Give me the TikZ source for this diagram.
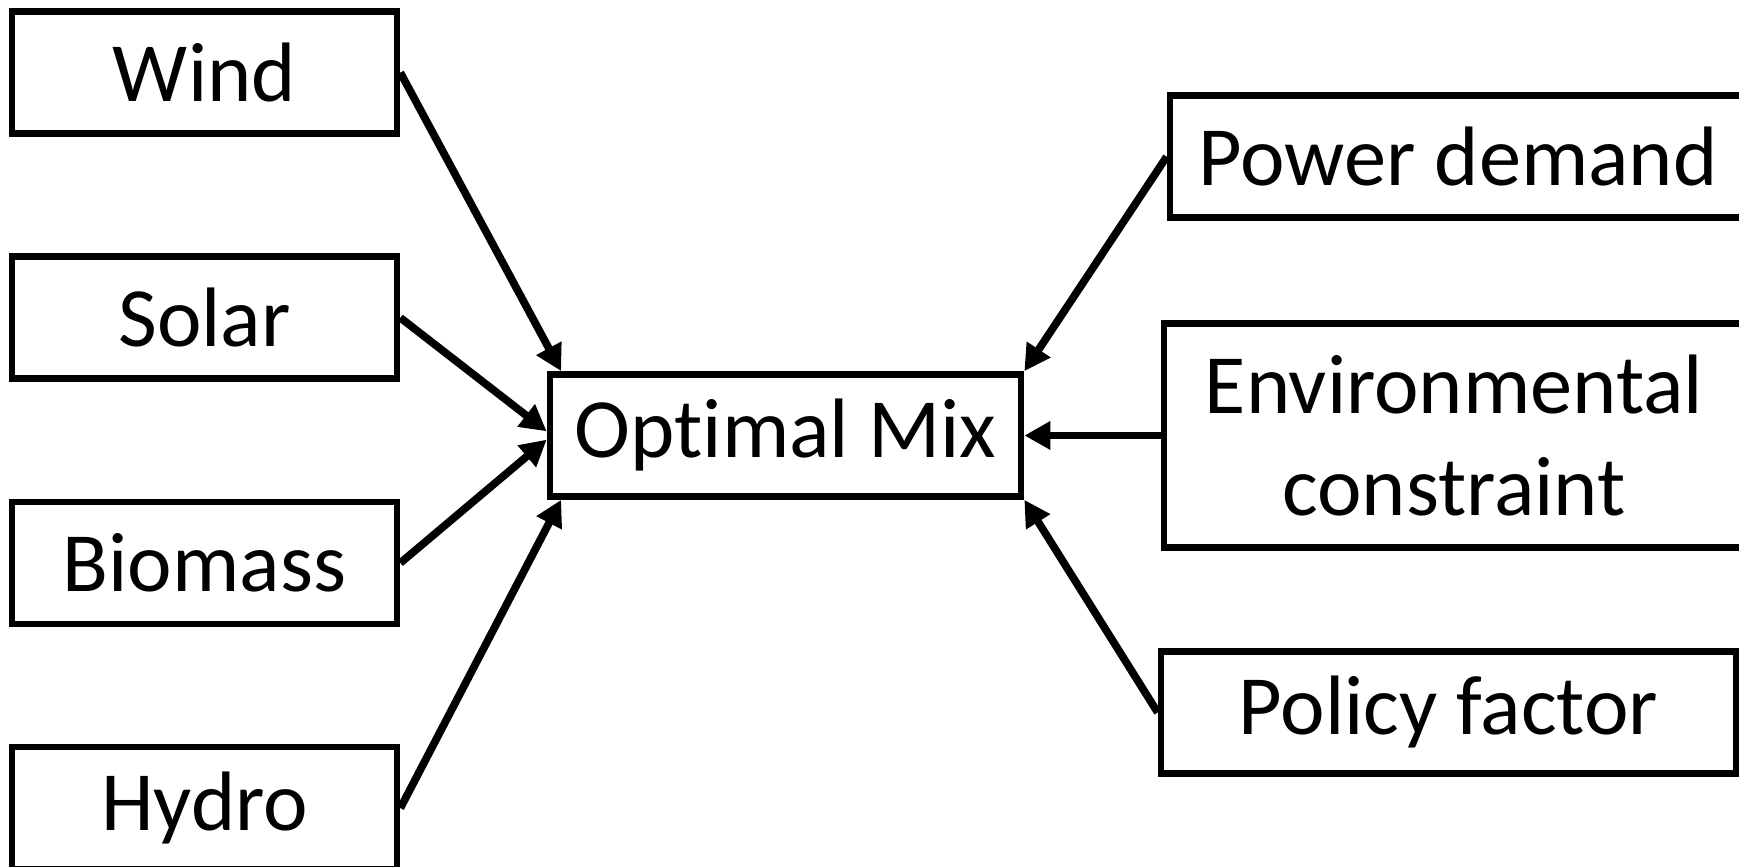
\documentclass[tikz,border=0pt]{standalone}
\usepackage{fontspec}
\setmainfont[Ligatures=NoCommon]{Carlito}
\usetikzlibrary{arrows.meta, positioning}

\begin{document}
\begin{tikzpicture}[
    node distance=1.165cm,
    factorbox/.style={rectangle, draw=black, line width=1.9pt, minimum height=1.22cm, inner sep=4pt, align=center, font=\fontsize{24}{29}\selectfont},
    arrow/.style={-{Triangle[length=0.26cm, width=0.27cm]}, line width=2.2pt}
  ]
  \useasboundingbox (0,0) rectangle (17.39,8.67);
  \node[factorbox, minimum width=3.85cm] (wind) at (2.045,7.944) {Wind};
  \node[factorbox, minimum width=3.85cm, below=of wind] (solar) {Solar};
  \node[factorbox, minimum width=3.85cm, below=of solar] (biomass) {Biomass};
  \node[factorbox, minimum width=3.85cm, below=of biomass] (hydro) {Hydro};
  \node[factorbox, minimum width=4.71cm] (mix) at (7.855,4.315) {Optimal Mix};
  \node[factorbox, minimum width=5.76cm] (power) at (14.58,7.103) {Power demand};
  \node[factorbox, minimum width=5.80cm, minimum height=2.24cm] (env) at (14.54,4.315) {Environmental\\constraint};
  \node[factorbox, minimum width=5.75cm] (policy) at (14.485,1.545) {Policy factor};
  \draw[arrow] (wind.east) -- (mix.164);
  \draw[arrow] (solar.east) -- (mix.179);
  \draw[arrow] (biomass.east) -- (mix.181);
  \draw[arrow] (hydro.east) -- (mix.196);
  \draw[arrow] (power.west) -- (mix.north east);
  \draw[arrow] (env.west) -- (mix.east);
  \draw[arrow] (policy.west) -- (mix.south east);
\end{tikzpicture}
\end{document}
